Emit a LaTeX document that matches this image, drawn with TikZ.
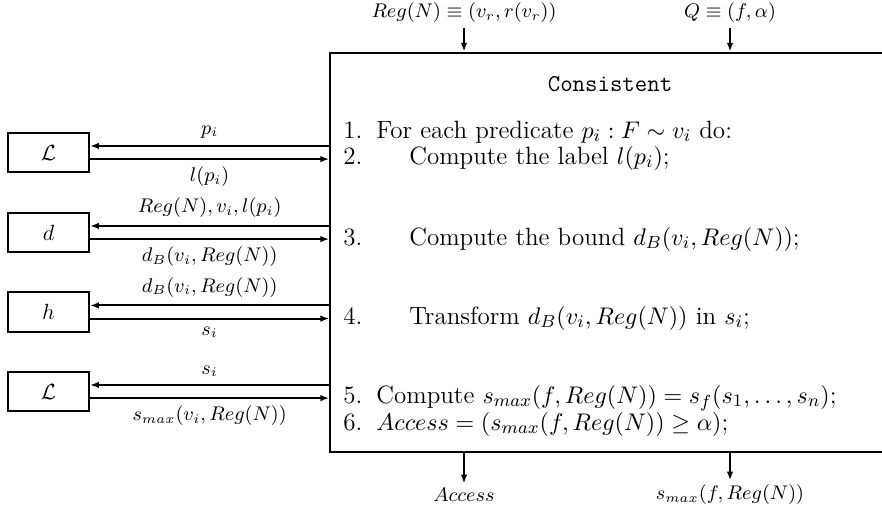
\documentclass[tikz,border=0pt]{standalone}
\usepackage{amsmath,amssymb}
\usetikzlibrary{arrows.meta,positioning}
\tikzset{
  smallbox/.style={draw, line width=0.9pt, minimum width=37pt, minimum height=18pt, inner sep=0pt},
  arr/.style={-{Latex[length=4pt,width=3pt]}, line width=0.9pt},
  lbl/.style={font=\fontsize{9.2}{11}\selectfont, inner sep=3.2pt},
  iolbl/.style={font=\fontsize{9.2}{11}\selectfont, inner sep=2pt},
  stepline/.style={anchor=west, inner sep=0pt, font=\fontsize{11.4}{14}\selectfont},
}

\begin{document}
\begin{tikzpicture}[x=0.016cm,y=-0.016cm]
\useasboundingbox (0,0) rectangle (882,506);
% the procedure block, right side runs off the page
\node[draw, line width=0.9pt, minimum width=8.99cm, minimum height=6.4cm] (cons) at (611,252.5) {};
\node[font=\fontsize{11}{13.5}\selectfont] at (610,84) {\texttt{Consistent}};
\node[stepline] (s1) at (343,132) {\makebox[15pt][l]{1.}For each predicate $p_i : F \sim v_i$ do:};
\node[stepline] (s2) at (343,158) {\makebox[30pt][l]{2.}Compute the label $l(p_i)$;};
\node[stepline] (s3) at (343,239) {\makebox[30pt][l]{3.}Compute the bound $d_B(v_i, Reg(N))$;};
\node[stepline] (s4) at (343,318) {\makebox[30pt][l]{4.}Transform $d_B(v_i, Reg(N))$ in $s_i$;};
\node[stepline] (s5) at (343,398) {\makebox[15pt][l]{5.}Compute $s_{max}(f, Reg(N)) = s_f(s_1, \ldots, s_n)$;};
\node[stepline] (s6) at (343,424) {\makebox[15pt][l]{6.}$Access = (s_{max}(f, Reg(N)) \geq \alpha)$;};
% helper blocks
\node[smallbox] (lab1) at (48.5,152.5) {$\mathcal{L}$};
\node[smallbox] (dist) at (48.5,232.5) {$d$};
\node[smallbox] (hfun) at (48.5,312) {$h$};
\node[smallbox] (lab2) at (48.5,391.5) {$\mathcal{L}$};
% calls and returns
\draw[arr] ([yshift=3pt]cons.west |- lab1) -- node[lbl,above] {$p_i$} ([yshift=3pt]lab1.east);
\draw[arr] ([yshift=-3pt]lab1.east) -- node[lbl,below] {$l(p_i)$} ([yshift=-3pt]cons.west |- lab1);
\draw[arr] ([yshift=3pt]cons.west |- dist) -- node[lbl,above] {$Reg(N), v_i, l(p_i)$} ([yshift=3pt]dist.east);
\draw[arr] ([yshift=-3pt]dist.east) -- node[lbl,below] {$d_B(v_i, Reg(N))$} ([yshift=-3pt]cons.west |- dist);
\draw[arr] ([yshift=3pt]cons.west |- hfun) -- node[lbl,above] {$d_B(v_i, Reg(N))$} ([yshift=3pt]hfun.east);
\draw[arr] ([yshift=-3pt]hfun.east) -- node[lbl,below] {$s_i$} ([yshift=-3pt]cons.west |- hfun);
\draw[arr] ([yshift=3pt]cons.west |- lab2) -- node[lbl,above] {$s_i$} ([yshift=3pt]lab2.east);
\draw[arr] ([yshift=-3pt]lab2.east) -- node[lbl,below] {$s_{max}(v_i, Reg(N))$} ([yshift=-3pt]cons.west |- lab2);
% inputs and outputs
\node[iolbl] (regin) at (464,13) {$Reg(N) \equiv (v_r, r(v_r))$};
\node[iolbl] (qin) at (730,13) {$Q \equiv (f, \alpha)$};
\draw[arr] (regin) -- (regin |- cons.north);
\draw[arr] (qin) -- (qin |- cons.north);
\node[iolbl] (acc) at (464,495) {$Access$};
\node[iolbl] (smax) at (730,495) {$s_{max}(f, Reg(N))$};
\draw[arr] (acc |- cons.south) -- (acc);
\draw[arr] (smax |- cons.south) -- (smax);
\end{tikzpicture}
\end{document}
